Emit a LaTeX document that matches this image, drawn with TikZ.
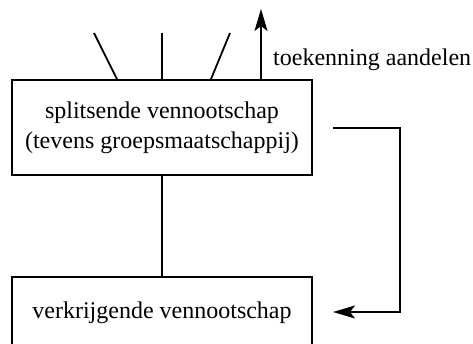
\documentclass[tikz,border=0pt]{standalone}
\usepackage{fontspec}
\setmainfont{Liberation Serif}
\usetikzlibrary{arrows.meta}
\begin{document}
\begin{tikzpicture}[x=1pt,y=-1pt,
  every node/.style={font=\fontsize{24}{30}\selectfont},
  boxnode/.style={draw,line width=1.8pt,minimum width=300pt,inner sep=0pt,align=center},
  conn/.style={line width=1.8pt},
  arr/.style={conn,arrows={-Stealth[length=22pt,width=13pt,inset=5pt]}}]
\useasboundingbox (0,0) rectangle (473,344);
\clip (0,0) rectangle (473,344);
\node[boxnode,minimum height=95pt] (top) at (162,127.5) {splitsende vennootschap\\(tevens groepsmaatschappij)};
\node[boxnode,minimum height=72pt] (bot) at (162,313) {verkrijgende vennootschap};
\coordinate (l1) at (94,33);
\coordinate (l2) at (162,33);
\coordinate (l3) at (230,33);
\coordinate (up) at (261,9);
\draw[conn] (top.north -| 117,0) -- (l1);
\draw[conn] (top.north -| 162,0) -- (l2);
\draw[conn] (top.north -| 211,0) -- (l3);
\draw[arr] (top.north -| 261,0) -- (up);
\node[anchor=base west,inner sep=0pt] (lab) at (273,66) {toekenning aandelen};
\draw[conn] (top.south) -- (bot.north);
\coordinate (s) at (333,128);
\coordinate (e) at (333,312);
\draw[arr] (s) -- (400,128) -- (400,312) -- (e);
\end{tikzpicture}
\end{document}
